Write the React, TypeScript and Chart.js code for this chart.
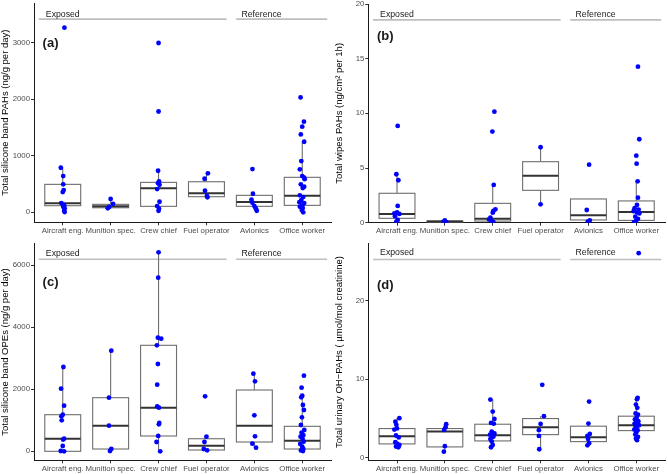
import React, { useEffect, useRef } from "react";
import { Chart, registerables } from "chart.js";

Chart.register(...registerables);
Chart.defaults.font.family = "'Liberation Sans', Arial, sans-serif";

// ---------- shared ----------
const categories = ["Aircraft eng.", "Munition spec.", "Crew chief", "Fuel operator", "Avionics", "Office worker"];
const groupLabels = ["Exposed", "Reference"];

// ---------- panel (a): silicone band PAHs ----------
const ticksA = [0, 1000, 2000, 3000];
// box stats: [lower whisker, q1, median, q3, upper whisker]
const boxesA = [
  [5, 117, 159, 494, 787],
  [70, 81, 106, 141, 235],
  [28, 106, 423, 529, 734],
  [265, 276, 335, 540, 688],
  [28, 106, 182, 300, 328],
  [0, 123, 293, 618, 1246],
];
const aircraftA = [3260, 787, 640, 494, 393, 358, 164, 141, 123, 99, 70, 28, 5];
const munitionA = [235, 150, 95, 70];
const crewA = [2990, 1780, 734, 545, 515, 485, 411, 187, 111, 64, 28];
const fuelA = [688, 593, 381, 288, 265];
const avionicsA = [764, 328, 222, 169, 111, 71, 28];
const officeA = [2029, 1600, 1512, 1376, 1246, 905, 759, 640, 611, 585, 494, 452, 430, 300, 270, 217, 180, 164, 123, 100, 76, 40, 0];
const jitterA = [
  [0.035, -0.04, 0.01, 0.01, 0.02, 0, -0.03, 0, 0.03, 0.01, 0.04, 0.03, 0.04],
  [0, 0.05, -0.03, -0.06],
  [0, 0, -0.01, 0.01, -0.01, 0.02, -0.03, 0.02, -0.03, 0.01, 0],
  [0.03, -0.04, -0.03, 0.01, 0.02],
  [-0.04, -0.03, -0.06, -0.04, 0, 0.03, 0.05],
  [-0.035, 0.035, 0, -0.03, 0.04, -0.02, -0.05, 0, 0.04, 0.05, -0.03, 0.04, 0.01, -0.05, 0.02, -0.02, -0.06, 0.04, 0, -0.05, 0.01, -0.01, 0.02],
];

// ---------- panel (b): wipes PAHs ----------
const ticksB = [0, 5, 10, 15, 20];
const boxesB = [
  [0.1, 0.4, 0.8, 2.69, 4.43],
  [0.02, 0.05, 0.1, 0.16, 0.2],
  [0.05, 0.15, 0.37, 1.77, 3.45],
  [1.68, 2.96, 4.3, 5.58, 6.9],
  [0.1, 0.25, 0.68, 2.17, 2.17],
  [0.05, 0.21, 0.98, 1.99, 3.78],
];
const aircraftB = [8.85, 4.43, 3.88, 1.53, 0.95, 0.85, 0.8, 0.6, 0.25, 0.1];
const munitionB = [0.2, 0.1, 0.05];
const crewB = [10.15, 8.33, 3.45, 1.22, 1.07, 0.92, 0.46, 0.3, 0.15, 0.05];
const fuelB = [6.9, 1.68];
const avionicsB = [5.31, 1.16, 0.2, 0.1];
const officeB = [14.27, 7.63, 6.13, 5.4, 3.78, 2.29, 1.62, 1.32, 1.2, 1.05, 0.95, 0.85, 0.55, 0.35, 0.15, 0.05];
const jitterB = [
  [0.014, -0.014, 0.028, 0.014, 0, -0.056, 0.049, -0.042, 0.014, -0.014],
  [0, -0.03, 0.03],
  [0.035, -0.007, 0.021, 0.056, 0.014, 0, -0.049, -0.077, -0.021, 0.014],
  [0, 0],
  [0.014, -0.035, 0.028, -0.014],
  [0.035, 0.063, 0, 0.007, 0.028, 0.035, 0.014, -0.035, 0.049, -0.056, 0.014, 0.063, -0.021, 0.035, -0.007, -0.049],
];

// ---------- panel (c): silicone band OPEs ----------
const ticksC = [0, 2000, 4000, 6000];
const boxesC = [
  [0, 0, 406, 1181, 2719],
  [10, 74, 826, 1730, 3245],
  [0, 494, 1407, 3419, 6419],
  [32, 42, 181, 406, 471],
  [116, 300, 826, 1977, 2503],
  [10, 74, 342, 806, 1794],
];
const aircraftC = [2719, 2019, 1471, 1181, 1129, 1000, 406, 380, 171, 10, 0];
const munitionC = [3245, 1730, 826, 74, 10];
const crewC = [6419, 5602, 3667, 3634, 3419, 2817, 2150, 1452, 1409, 914, 871, 495, 301, 0];
const fuelC = [1774, 471, 300, 74, 32];
const avionicsC = [2503, 2258, 1161, 484, 245, 116];
const officeC = [2439, 2052, 1794, 1742, 1494, 1333, 1097, 849, 688, 602, 520, 473, 398, 312, 237, 150, 74, 30, 10];
const jitterC = [
  [0.014, -0.035, 0.028, 0, -0.028, -0.021, 0.028, 0.007, 0, -0.042, 0.028],
  [0.014, -0.035, -0.035, 0.014, -0.014],
  [0, -0.007, -0.014, 0.056, -0.035, -0.014, -0.028, -0.028, 0.007, 0.014, 0.007, -0.007, -0.042, 0.035],
  [-0.028, 0, -0.042, -0.056, 0.014],
  [-0.021, 0.014, 0, 0.014, -0.042, 0.035],
  [0.035, -0.014, 0, -0.021, 0.014, 0.035, -0.007, -0.028, 0.042, -0.014, 0.021, -0.035, 0.007, 0.028, -0.042, 0, 0.021, -0.028, 0.014],
];

// ---------- panel (d): urinary OH-PAHs ----------
const ticksD = [0, 10, 20];
const boxesD = [
  [1.35, 1.78, 2.75, 3.73, 5.05],
  [0.8, 1.4, 3.35, 3.73, 4.28],
  [1.36, 2.16, 2.88, 4.28, 7.41],
  [1.1, 2.96, 3.9, 5.0, 5.3],
  [1.49, 2.07, 2.63, 4.03, 4.36],
  [2.25, 3.47, 4.15, 5.3, 7.63],
];
const aircraftD = [5.05, 4.6, 4.2, 3.75, 3.6, 2.85, 2.6, 2.0, 1.8, 1.65, 1.45, 1.35];
const munitionD = [4.28, 3.9, 3.56, 1.49, 0.8];
const crewD = [7.41, 5.88, 4.95, 4.45, 4.35, 3.35, 3.1, 2.95, 2.7, 2.4, 2.1, 1.65, 1.36];
const fuelD = [9.28, 5.3, 4.32, 3.52, 2.8, 1.1];
const avionicsD = [7.15, 4.36, 3.05, 2.8, 2.4, 1.87, 1.6];
const officeD = [26.0, 7.63, 7.46, 6.78, 6.36, 5.64, 5.5, 5.13, 4.9, 4.66, 4.5, 4.36, 4.2, 4.15, 3.94, 3.73, 3.6, 3.52, 3.22, 2.97, 2.67, 2.46, 2.25];
const jitterD = [
  [0.049, -0.035, -0.014, 0, -0.056, -0.021, 0.035, -0.035, 0, 0.049, -0.021, 0.028],
  [0.028, 0.014, -0.014, 0, -0.021],
  [-0.049, 0, 0.035, -0.035, 0.021, -0.021, 0.035, -0.056, 0.014, -0.049, -0.021, 0, -0.035],
  [0.035, 0.07, 0, -0.035, -0.035, -0.028],
  [0.014, 0, 0.028, -0.021, -0.007, 0.014, -0.021],
  [0.05, 0.028, 0.014, -0.007, 0.021, -0.014, 0.035, 0.007, -0.028, 0.042, 0, -0.035, 0.021, 0.056, -0.014, 0.007, -0.042, 0.028, 0, -0.021, 0.035, -0.007, 0.014],
];

const W = 334;
const H = 237;

type Panel = {
  label: string;
  title: string;
  yMin: number;
  yMax: number;
  yTicks: number[];
  boxes: number[][];
  points: number[][];
  jitter: number[][];
  headerLineY: number;
  headerTextY: number;
  labelY: number;
  pos: { left: number; top: number };
  area: { left: number; right: number; top: number; bottom: number };
};

const panels: Panel[] = [
  {
    label: "(a)",
    title: "Total silicone band PAHs (ng/g per day)",
    yMin: -176, yMax: 3696, yTicks: ticksA,
    boxes: boxesA,
    points: [aircraftA, munitionA, crewA, fuelA, avionicsA, officeA],
    jitter: jitterA,
    headerLineY: 3411, headerTextY: 3494, labelY: 2990,
    pos: { left: 0, top: 0 },
    area: { left: 34, right: 331, top: 3, bottom: 222.3 },
  },
  {
    label: "(b)",
    title: "Total wipes PAHs (ng/cm² per 1h)",
    yMin: 0, yMax: 20, yTicks: ticksB,
    boxes: boxesB,
    points: [aircraftB, munitionB, crewB, fuelB, avionicsB, officeB],
    jitter: jitterB,
    headerLineY: 18.55, headerTextY: 19.0, labelY: 17,
    pos: { left: 334, top: 0 },
    area: { left: 34.3, right: 331, top: 4, bottom: 222.7 },
  },
  {
    label: "(c)",
    title: "Total silicone band OPEs (ng/g per day)",
    yMin: -290, yMax: 6697, yTicks: ticksC,
    boxes: boxesC,
    points: [aircraftC, munitionC, crewC, fuelC, avionicsC, officeC],
    jitter: jitterC,
    headerLineY: 6194, headerTextY: 6374, labelY: 5440,
    pos: { left: 0, top: 237 },
    area: { left: 34, right: 331, top: 6.7, bottom: 223.3 },
  },
  {
    label: "(d)",
    title: "Total urinary OH\u2212PAHs ( \u00b5mol/mol creatinine)",
    yMin: -0.3, yMax: 27.2, yTicks: ticksD,
    boxes: boxesD,
    points: [aircraftD, munitionD, crewD, fuelD, avionicsD, officeD],
    jitter: jitterD,
    headerLineY: 25.2, headerTextY: 26.1, labelY: 21.9,
    pos: { left: 334, top: 237 },
    area: { left: 34.3, right: 331, top: 6.7, bottom: 223.3 },
  },
];

function makePlugin(p: Panel) {
  return {
    id: "boxes",
    beforeDatasetsDraw(chart: any) {
      const xs = chart.scales.x;
      const ys = chart.scales.y;
      const ctx = chart.ctx as CanvasRenderingContext2D;
      const ca = chart.chartArea;
      const X = (v: number) => xs.getPixelForValue(v);
      const Y = (v: number) => ys.getPixelForValue(v);
      const line = (x1: number, y1: number, x2: number, y2: number) => {
        ctx.beginPath();
        ctx.moveTo(x1, y1);
        ctx.lineTo(x2, y2);
        ctx.stroke();
      };

      // header lines and group labels
      ctx.save();
      ctx.strokeStyle = "#bebebe";
      ctx.lineWidth = 1.6;
      line(X(0.5), Y(p.headerLineY), X(4.42), Y(p.headerLineY));
      line(X(4.62), Y(p.headerLineY), X(6.52), Y(p.headerLineY));
      ctx.fillStyle = "#1a1a1a";
      ctx.font = "8.7px 'Liberation Sans', Arial, sans-serif";
      ctx.textAlign = "center";
      ctx.textBaseline = "middle";
      ctx.fillText(groupLabels[0], X(1.0), Y(p.headerTextY));
      ctx.fillText(groupLabels[1], X(5.15), Y(p.headerTextY));
      ctx.font = "bold 13px 'Liberation Sans', Arial, sans-serif";
      ctx.textAlign = "left";
      ctx.fillText(p.label, X(0.58), Y(p.labelY));
      ctx.restore();

      // boxes
      ctx.save();
      ctx.beginPath();
      ctx.rect(ca.left, ca.top, ca.right - ca.left, ca.bottom - ca.top);
      ctx.clip();
      p.boxes.forEach((b, i) => {
        const [lo, q1, med, q3, hi] = b;
        const cx = X(i + 1);
        const hw = X(i + 1 + 0.375) - cx;
        ctx.strokeStyle = "#6e6e6e";
        ctx.lineWidth = 1.1;
        line(cx, Y(hi), cx, Y(q3));
        line(cx, Y(q1), cx, Y(lo));
        ctx.fillStyle = "#ffffff";
        ctx.fillRect(cx - hw, Y(q3), 2 * hw, Y(q1) - Y(q3));
        ctx.strokeRect(cx - hw, Y(q3), 2 * hw, Y(q1) - Y(q3));
        ctx.strokeStyle = "#333333";
        ctx.lineWidth = 2;
        line(cx - hw, Y(med), cx + hw, Y(med));
      });
      ctx.restore();
    },
  };
}

function PanelChart({ p }: { p: Panel }) {
  const ref = useRef<HTMLCanvasElement | null>(null);
  useEffect(() => {
    if (!ref.current) return;
    const data = p.points.flatMap((vals, i) =>
      vals.map((v, k) => ({ x: i + 1 + (p.jitter[i][k] ?? 0), y: v }))
    );
    const chart = new Chart(ref.current, {
      type: "scatter",
      data: {
        datasets: [
          {
            data,
            pointRadius: 2.4,
            pointHoverRadius: 2.4,
            backgroundColor: "#0000ff",
            borderWidth: 0,
          },
        ],
      },
      options: {
        animation: false,
        responsive: false,
        devicePixelRatio: 1,
        events: [],
        layout: { padding: { top: p.area.top, right: W - p.area.right, left: 0, bottom: 0 } },
        plugins: { legend: { display: false }, tooltip: { enabled: false } },
        scales: {
          x: {
            type: "linear",
            min: 0.4,
            max: 6.6,
            afterBuildTicks: (s: any) => {
              s.ticks = categories.map((_, i) => ({ value: i + 1 }));
            },
            afterFit: (s: any) => {
              s.height = H - p.area.bottom;
              s.paddingLeft = 0;
              s.paddingRight = 0;
            },
            ticks: {
              autoSkip: false,
              maxRotation: 0,
              minRotation: 0,
              padding: 0.5,
              color: "#4d4d4d",
              font: { size: 7.8 },
              callback: (v: any) => categories[Math.round(Number(v)) - 1] ?? "",
            },
            grid: { display: true, drawOnChartArea: false, drawTicks: true, tickLength: 3, tickColor: "#333333" },
            border: { display: true, color: "#1a1a1a", width: 1 },
          },
          y: {
            type: "linear",
            min: p.yMin,
            max: p.yMax,
            afterBuildTicks: (s: any) => {
              s.ticks = p.yTicks.map((v) => ({ value: v }));
            },
            afterFit: (s: any) => {
              s.width = p.area.left;
              s.paddingTop = 0;
              s.paddingBottom = 0;
            },
            ticks: {
              padding: 1,
              color: "#4d4d4d",
              font: { size: 7.8 },
              callback: (v: any) => String(v),
            },
            grid: { display: true, drawOnChartArea: false, drawTicks: true, tickLength: 3, tickColor: "#333333" },
            border: { display: true, color: "#1a1a1a", width: 1 },
            title: {
              display: true,
              text: p.title,
              color: "#000000",
              font: { size: 9.5, lineHeight: 1.15 },
              padding: { top: 0, bottom: 0 },
            },
          },
        },
      },
      plugins: [makePlugin(p)],
    });
    return () => chart.destroy();
  }, [p]);
  return (
    <canvas
      ref={ref}
      width={W}
      height={H}
      style={{ position: "absolute", left: p.pos.left, top: p.pos.top, width: W, height: H }}
    />
  );
}

export default function App() {
  return (
    <div style={{ position: "absolute", left: 0, top: 0, width: 668, height: 474, background: "#ffffff" }}>
      {panels.map((p) => (
        <PanelChart key={p.label} p={p} />
      ))}
    </div>
  );
}
